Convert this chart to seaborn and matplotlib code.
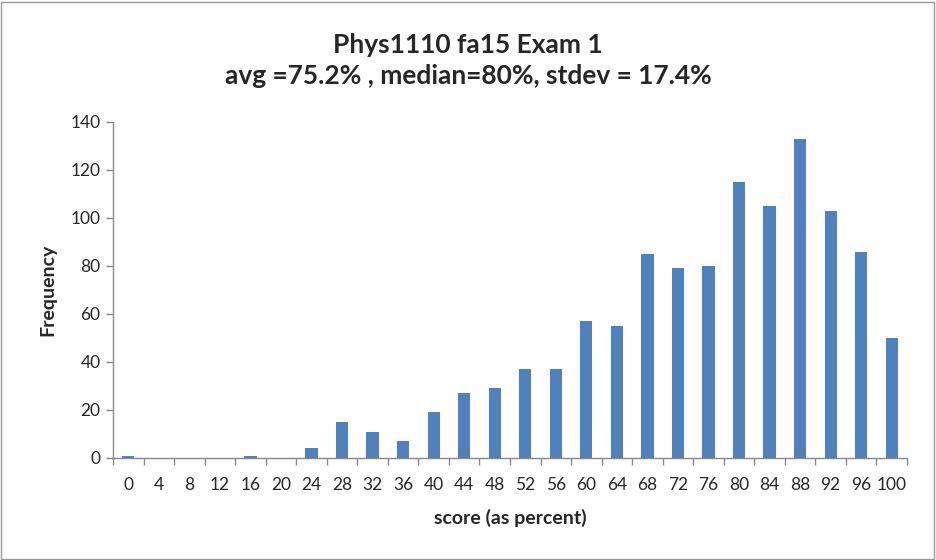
import matplotlib
matplotlib.use("Agg")
import matplotlib.pyplot as plt
import seaborn as sns
import pandas as pd
import numpy as np
from matplotlib.patches import Rectangle
from matplotlib.ticker import FixedLocator

scores = [0, 4, 8, 12, 16, 20, 24, 28, 32, 36, 40, 44, 48, 52, 56, 60, 64, 68, 72, 76, 80, 84, 88, 92, 96, 100]
freq = [1, 0, 0, 0, 1, 0, 4, 15, 11, 7, 19, 27, 29, 37, 37, 57, 55, 85, 79, 80, 115, 105, 133, 103, 86, 50]
yticks = [0, 20, 40, 60, 80, 100, 120, 140]

sns.set_theme(style="white")
plt.rcParams['font.family'] = ['Lato', 'DejaVu Sans']

df = pd.DataFrame({"score": [str(s) for s in scores], "freq": freq})

fig = plt.figure(figsize=(9.36, 5.6), dpi=100)
ax = fig.add_axes([113/936, 1 - 458/560, (907-113)/936, (458-122)/560])
sns.barplot(data=df, x="score", y="freq", color="#4F81BD", saturation=1,
            width=0.4, edgecolor="none", ax=ax, order=[str(s) for s in scores])

ax.set_xlim(-0.5, len(scores) - 0.5)
ax.set_ylim(0, 140)
ax.set_yticks(yticks)
ax.set_yticklabels([str(v) for v in yticks], fontsize=12.5)
ax.tick_params(axis='y', which='major', length=5, width=1, color='#888888', direction='out', left=True, pad=4)
ax.tick_params(axis='x', which='major', length=0, labelsize=12.5, pad=14)
ax.xaxis.set_minor_locator(FixedLocator(np.arange(-0.5, len(scores), 1.0)))
ax.tick_params(axis='x', which='minor', length=5, width=1, color='#888888', direction='out', bottom=True)

for s in ['top', 'right']:
    ax.spines[s].set_visible(False)
for s in ['left', 'bottom']:
    ax.spines[s].set_color('#888888')
    ax.spines[s].set_linewidth(1)

ax.set_xlabel("score (as percent)", fontsize=14, fontweight='bold', labelpad=11)
ax.set_ylabel("Frequency", fontsize=14, fontweight='bold', labelpad=10)

fig.text(0.5, 1 - 45/560, "Phys1110 fa15 Exam 1", ha='center', va='center', fontsize=19, fontweight='bold')
fig.text(0.5, 1 - 76/560, "avg =75.2% , median=80%, stdev = 17.4%", ha='center', va='center', fontsize=19, fontweight='bold')

fig.patches.append(Rectangle((0.001, 0.002), 0.997, 0.995, transform=fig.transFigure,
                             fill=False, edgecolor='#999999', linewidth=1))

fig.savefig("out.png", dpi=100)
